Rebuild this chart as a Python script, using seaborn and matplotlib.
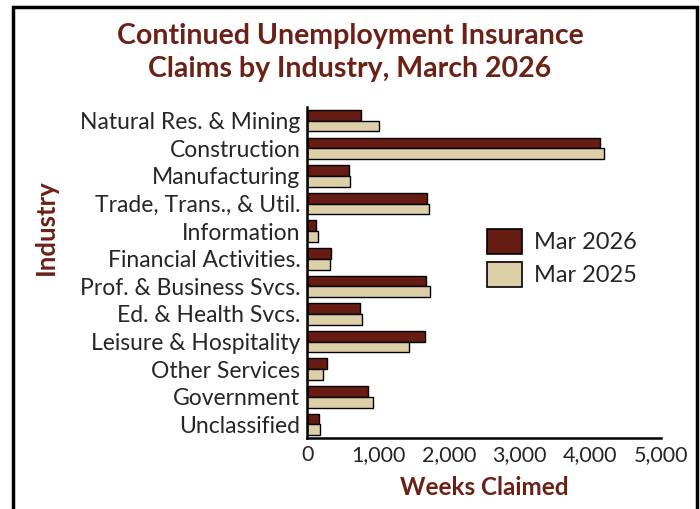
import numpy as np
import pandas as pd
import matplotlib
matplotlib.use("Agg")
import matplotlib.pyplot as plt
import seaborn as sns
from matplotlib.patches import Rectangle

# ---------------------- data ----------------------
industries = [
    "Natural Res. & Mining", "Construction", "Manufacturing",
    "Trade, Trans., & Util.", "Information", "Financial Activities.",
    "Prof. & Business Svcs.", "Ed. & Health Svcs.", "Leisure & Hospitality",
    "Other Services", "Government", "Unclassified",
]
mar_2026 = [760, 4145, 590, 1695, 125, 340, 1685, 745, 1665, 280, 865, 165]
mar_2025 = [1015, 4190, 605, 1720, 145, 320, 1730, 775, 1435, 215, 930, 175]
series = ["Mar 2026", "Mar 2025"]
x_ticks = [0, 1000, 2000, 3000, 4000, 5000]

dark_red = "#661C12"
tan = "#DDD0A8"
title_color = "#6B2116"

df = pd.DataFrame({
    "Industry": industries * 2,
    "Weeks": mar_2026 + mar_2025,
    "Period": [series[0]] * len(industries) + [series[1]] * len(industries),
})

sns.set_style("white")
plt.rcParams['font.family'] = ['Lato', 'DejaVu Sans']

fig = plt.figure(figsize=(7.0, 5.09), dpi=100)
ax = fig.add_axes([0.439, 0.139, 0.505, 0.651])

sns.barplot(data=df, y="Industry", x="Weeks", hue="Period", order=industries,
            hue_order=series, palette=[dark_red, tan], saturation=1, width=0.78,
            edgecolor="black", linewidth=1.0, orient="h", ax=ax)

ax.set_xlim(0, 5000)
ax.set_ylim(len(industries) - 0.5, -0.5)
ax.set_xticks(x_ticks)
ax.set_xticklabels([f"{v:,}" for v in x_ticks], fontsize=15.5)
ax.tick_params(axis="y", labelsize=16.5, length=0, pad=5)
ax.tick_params(axis="x", direction="in", length=6, width=1.5, color="black", pad=5)
for s in ["top", "right"]:
    ax.spines[s].set_visible(False)
for s in ["left", "bottom"]:
    ax.spines[s].set_color("black")
    ax.spines[s].set_linewidth(1.8)

ax.set_xlabel("Weeks Claimed", fontsize=17.5, fontweight="bold", color=title_color, labelpad=8)
ax.set_ylabel("")
fig.text(0.065, 0.553, "Industry", rotation=90, ha="center", va="center",
         fontsize=18.5, fontweight="bold", color=title_color)

fig.text(0.5, 0.897, "Continued Unemployment Insurance\nClaims by Industry, March 2026",
         ha="center", va="center", fontsize=20.5, fontweight="bold",
         color=title_color, linespacing=1.3)

leg = ax.legend(loc="center", bbox_to_anchor=(0.72, 0.545), frameon=False,
                fontsize=17, handlelength=1.5, handleheight=1.25,
                handletextpad=0.5, labelspacing=0.35)
for h in leg.legend_handles:
    h.set_edgecolor("black")
    h.set_linewidth(1.2)

# outer frame
fig.patches.append(Rectangle((0.018, -0.01), 0.977, 0.997, transform=fig.transFigure,
                             fill=False, edgecolor="black", linewidth=2.5))

fig.savefig("out.png", dpi=100)
